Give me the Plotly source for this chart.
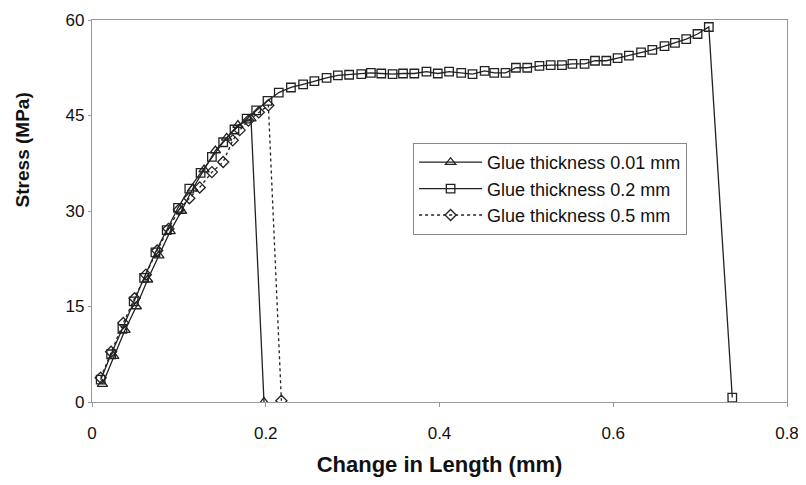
import plotly.graph_objects as go

# 0.01 mm glue (triangles)
x_tri = [0.012, 0.025, 0.038, 0.051, 0.064, 0.077, 0.090, 0.103, 0.116, 0.129, 0.142, 0.155, 0.168, 0.183, 0.198]
y_tri = [2.8, 7.2, 11.3, 15.0, 19.2, 23.0, 26.8, 30.0, 33.5, 36.5, 39.5, 41.5, 43.5, 44.5, 0.0]

# 0.2 mm glue (squares)
x_sq = [0.010, 0.022, 0.035, 0.048, 0.060, 0.073, 0.086, 0.099, 0.112, 0.125, 0.138, 0.151, 0.164,
        0.178, 0.189, 0.202, 0.215, 0.229, 0.243, 0.256, 0.270, 0.283, 0.296, 0.310, 0.321, 0.333,
        0.346, 0.358, 0.371, 0.385, 0.398, 0.411, 0.425, 0.438, 0.452, 0.463, 0.476, 0.488, 0.501,
        0.515, 0.528, 0.541, 0.553, 0.567, 0.579, 0.592, 0.605, 0.618, 0.632, 0.645, 0.659, 0.671,
        0.684, 0.697, 0.710, 0.737]
y_sq = [3.5, 7.5, 11.5, 15.8, 19.5, 23.5, 27.0, 30.5, 33.5, 36.0, 38.5, 40.8, 42.8,
        44.5, 45.8, 47.3, 48.6, 49.4, 49.9, 50.4, 50.9, 51.3, 51.4, 51.5, 51.7, 51.6,
        51.5, 51.6, 51.6, 51.9, 51.6, 51.9, 51.7, 51.5, 52.0, 51.7, 51.7, 52.5, 52.5,
        52.8, 52.9, 52.9, 53.1, 53.1, 53.6, 53.6, 54.0, 54.4, 54.9, 55.3, 55.9, 56.4,
        57.0, 57.8, 58.9, 0.7]

# 0.5 mm glue (diamonds)
x_dia = [0.010, 0.022, 0.036, 0.049, 0.062, 0.075, 0.088, 0.100, 0.112, 0.124, 0.138, 0.151,
         0.162, 0.170, 0.180, 0.192, 0.203, 0.218]
y_dia = [3.8, 7.9, 12.4, 16.3, 20.0, 23.8, 27.2, 30.2, 32.0, 33.7, 36.1, 37.7,
         41.1, 42.7, 44.2, 45.5, 46.6, 0.2]

x_ticks = [0, 0.2, 0.4, 0.6, 0.8]
x_tick_text = ["0", "0.2", "0.4", "0.6", "0.8"]
y_ticks = [0, 15, 30, 45, 60]

FONT = "Liberation Sans, Arial, sans-serif"

fig = go.Figure()
fig.add_trace(go.Scatter(
    x=x_tri, y=y_tri, mode="lines+markers", name="Glue thickness 0.01 mm",
    legendgroup="a",
    line=dict(color="#222", width=1.3),
    marker=dict(symbol="triangle-up-open", size=9, color="#222", line=dict(width=1.3)),
))
fig.add_trace(go.Scatter(
    x=x_sq, y=y_sq, mode="lines+markers", name="Glue thickness 0.2 mm",
    legendgroup="b",
    line=dict(color="#222", width=1.3),
    marker=dict(symbol="square-open", size=8.5, color="#222", line=dict(width=1.3)),
))
fig.add_trace(go.Scatter(
    x=x_dia, y=y_dia, mode="lines+markers", name="Glue thickness 0.5 mm",
    legendgroup="c",
    line=dict(color="#222", width=1.3, dash="dot"),
    marker=dict(symbol="diamond-open", size=8.5, color="#222", line=dict(width=1.3)),
))

# y-axis title sits above the axis middle in the reference
fig.add_annotation(
    text="<b>Stress (MPa)</b>", textangle=-90,
    xref="paper", yref="paper", x=-0.10, y=0.66,
    xanchor="center", yanchor="middle", showarrow=False,
    font=dict(size=19, family=FONT, color="#111"),
)

# page body has an 8px margin, so the figure is 16px smaller than the window
fig.update_layout(
    width=790, height=469,
    margin=dict(l=84, r=11, t=12, b=75, autoexpand=False),
    paper_bgcolor="white", plot_bgcolor="white",
    font=dict(family=FONT, color="#111"),
    showlegend=True,
    legend=dict(
        x=0.462, y=0.678, xanchor="left", yanchor="top",
        bgcolor="white", bordercolor="#888", borderwidth=1,
        font=dict(size=18, family=FONT, color="#111"),
        itemwidth=63, tracegroupgap=0, traceorder="grouped",
    ),
    xaxis=dict(
        range=[0, 0.8], tickvals=x_ticks, ticktext=x_tick_text,
        automargin=False,
        showgrid=False, zeroline=False,
        showline=True, linecolor="#999", linewidth=1.3, mirror=True,
        ticks="outside", ticklen=4, tickcolor="#999",
        ticklabelstandoff=11, ticklabeloverflow="allow",
        tickfont=dict(size=17, family=FONT),
        title=dict(text="<b>Change in Length (mm)</b>", font=dict(size=22, family=FONT), standoff=15),
    ),
    yaxis=dict(
        range=[0, 60], tickvals=y_ticks,
        automargin=False,
        showgrid=False, zeroline=False,
        showline=True, linecolor="#999", linewidth=1.3, mirror=True,
        ticks="outside", ticklen=3, tickcolor="#999",
        tickfont=dict(size=17, family=FONT),
    ),
)

fig.write_html("out.html")
